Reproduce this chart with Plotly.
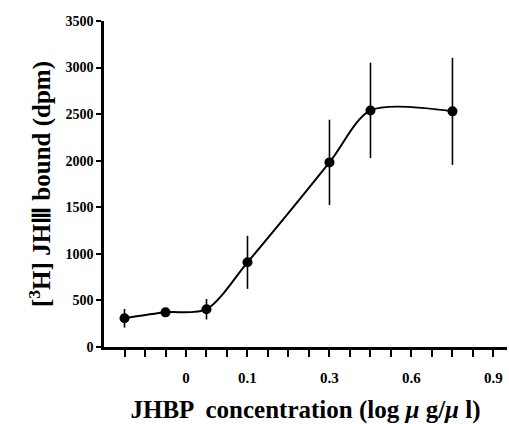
import plotly.graph_objects as go

# x positions are tick indices of the printed axis (19 evenly spaced ticks)
x_pos = [1, 3, 5, 7, 11, 13, 17]
bound_dpm = [308, 372, 405, 909, 1982, 2540, 2530]
err_dpm = [100, 45, 110, 285, 458, 512, 575]

tick_positions = list(range(1, 20))
label_positions = [4, 7, 11, 15, 19]
label_texts = ["0", "0.1", "0.3", "0.6", "0.9"]
ytick_vals = [0, 500, 1000, 1500, 2000, 2500, 3000, 3500]

font_family = "Liberation Serif"

fig = go.Figure()
fig.add_trace(go.Scatter(
    x=x_pos, y=bound_dpm,
    mode="lines+markers",
    line=dict(color="black", width=2, shape="spline", smoothing=0.8),
    marker=dict(color="black", size=10, symbol="circle"),
    error_y=dict(type="data", array=err_dpm, visible=True, color="black",
                 thickness=1.6, width=0),
    showlegend=False,
))

fig.update_layout(
    width=509, height=424,
    margin=dict(l=104, r=2, t=21, b=77),
    paper_bgcolor="white", plot_bgcolor="white",
    font=dict(family=font_family, color="black"),
    xaxis=dict(
        range=[0, 19.66], automargin=False,
        tickmode="array", tickvals=label_positions,
        ticktext=["<b>%s</b>" % t for t in label_texts],
        ticks="outside", ticklen=7, tickwidth=2, tickcolor="black",
        ticklabelstandoff=8,
        minor=dict(tickmode="array", tickvals=tick_positions, ticks="outside",
                   ticklen=7, tickwidth=2, tickcolor="black", showgrid=False),
        showline=True, linecolor="black", linewidth=2.5,
        showgrid=False, zeroline=False,
        tickfont=dict(family=font_family, size=15, color="black"),
        title=dict(text="<b>JHBP  concentration (log <i>μ</i> g/<i>μ</i> l)</b>",
                   font=dict(family=font_family, size=25, color="black"),
                   standoff=22),
    ),
    yaxis=dict(
        range=[0, 3500], automargin=False,
        tickmode="array", tickvals=ytick_vals,
        ticktext=["<b>%d</b>" % v for v in ytick_vals],
        ticks="outside", ticklen=5, tickwidth=2, tickcolor="black",
        showline=True, linecolor="black", linewidth=2.5,
        showgrid=False, zeroline=False,
        tickfont=dict(family=font_family, size=14, color="black"),
        title=dict(text="<b>[<sup>3</sup>H] JHⅢ bound (dpm)</b>",
                   font=dict(family=font_family, size=25, color="black"),
                   standoff=8),
    ),
)

fig.write_html("out.html",
               config={"displayModeBar": False},
               post_script="document.body.style.margin='0';document.body.style.overflow='hidden';")
